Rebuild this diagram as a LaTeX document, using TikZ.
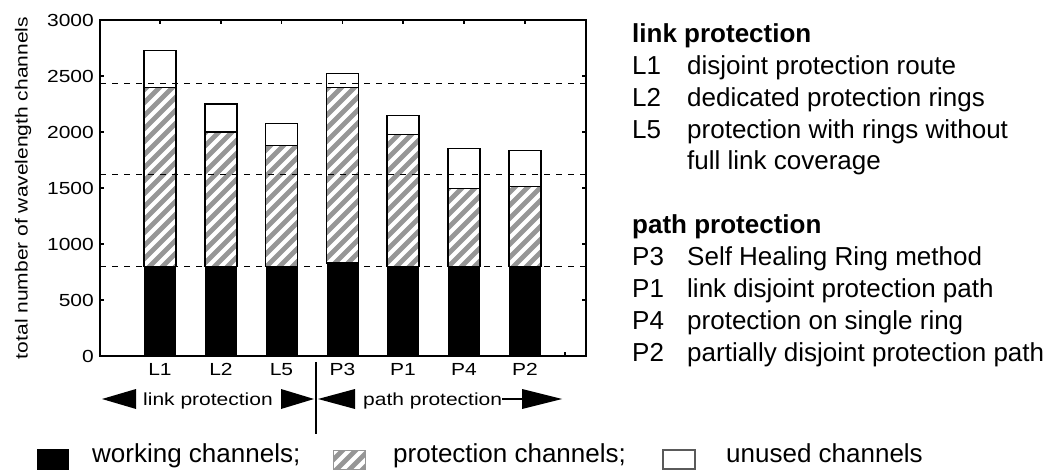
\documentclass[tikz,border=0pt]{standalone}
\usepackage{fontspec}
\setmainfont{Liberation Sans}
\newfontfamily\chartfont{Liberation Sans}[FakeStretch=1.2]
\definecolor{stripegray}{RGB}{150,150,150}
\definecolor{boxgray}{RGB}{90,90,90}
\begin{document}
\begin{tikzpicture}[x=1pt,y=-1pt,
  frame/.style={draw=black, line width=2pt, line join=miter},
  tick/.style={line width=1.5pt},
  guide/.style={line width=1pt, dash pattern=on 6pt off 6pt},
  barline/.style={draw=black, line width=1.3pt},
  stripe/.style={draw=stripegray, line width=4.8pt},
  chart/.style={font=\chartfont\fontsize{17.5}{20}\selectfont, inner sep=0pt},
  ticklabel/.style={chart, anchor=east},
  barlabel/.style={chart, anchor=base},
  note/.style={font=\fontsize{26}{31}\selectfont, inner sep=0pt, anchor=base west},
  head/.style={note, font=\bfseries\fontsize{26}{31}\selectfont},
  divider/.style={line width=2pt},
]
\useasboundingbox (0,0) rectangle (1058,470);

% stacked bars: label / centre x / working / working+protection / total
\foreach \lab/\cx/\w/\p/\t in {L1/160/800/2400/2730, L2/221/800/2000/2250,
    L5/281.5/800/1880/2075, P3/342.5/830/2400/2525, P1/403/800/1980/2150,
    P4/464/800/1495/1850, P2/525/800/1515/1835}{
  \pgfmathsetmacro\yw{356-0.112*\w}
  \pgfmathsetmacro\yp{356-0.112*\p}
  \pgfmathsetmacro\yt{356-0.112*\t}
  \pgfmathtruncatemacro\ka{(\cx-16+\yp)/13}
  \pgfmathtruncatemacro\kb{(\cx+16+\yw)/13+1}
  \fill[black] (\cx-16,356) rectangle (\cx+16,\yw);
  \fill[white] (\cx-16,\yw) rectangle (\cx+16,\yt);
  \begin{scope}
    \clip (\cx-16,\yw) rectangle (\cx+16,\yp);
    \foreach \k in {\ka,...,\kb}
      \draw[stripe] (\k*13-400,400) -- (\k*13,0);
  \end{scope}
  \draw[barline] (\cx-16,\yw) rectangle (\cx+16,\yp);
  \draw[barline] (\cx-16,\yp) rectangle (\cx+16,\yt);
  \node[barlabel] (bar-\lab) at (\cx,375) {\lab};
}

% reference levels
\foreach \v in {800,1620,2430}
  \draw[guide] (100,{356-0.112*\v}) -- (586,{356-0.112*\v});

% plot frame and inner ticks
\draw[frame] (100,20) rectangle (586,356);
\foreach \cx in {160,221,281.5,342.5,403,464,525}
  \draw[tick] (\cx,20) -- (\cx,24);
\foreach \v in {500,1000,...,2500}{
  \draw[tick] (586,{356-0.112*\v}) -- (582,{356-0.112*\v});
  \draw[tick] (100,{356-0.112*\v}) -- (104,{356-0.112*\v});
}
\draw[tick] (565,356) -- (565,352);

% axis numbers and title
\foreach \v in {0,500,...,3000}
  \node[ticklabel] (tick-\v) at (94,{356-0.112*\v}) {\v};
\node[chart, rotate=90] (ytitle) at (23,188) {total number of wavelength channels};

% grouping arrows below the bars
\coordinate (divtop) at (316,362);
\coordinate (divbot) at (316,434);
\draw[divider] (divtop) -- (divbot);
\fill (102,399) -- (136,389) -- (136,409) -- cycle;
\node[chart, anchor=base west] (grp-link) at (143,405) {link protection};
\fill (314,399) -- (281,389) -- (281,409) -- cycle;
\fill (318,399) -- (355,389) -- (355,409) -- cycle;
\node[chart, anchor=base west] (grp-path) at (363,405) {path protection};
\coordinate (tailend) at (522,399);
\draw[divider] (grp-path.east |- tailend) -- (tailend);
\fill (562,399) -- (522,389) -- (522,409) -- cycle;

% legend
\fill[black] (37,449) rectangle (69,470);
\node[note] (leg-work) at (92,462) {working channels;};
\begin{scope}
  \clip (333,450) rectangle (365,469);
  \foreach \k in {60,...,66}
    \draw[stripe] (\k*13-480,480) -- (\k*13-420,420);
\end{scope}
\draw[draw=stripegray, line width=1pt] (333,450) rectangle (365,469);
\node[note] (leg-prot) at (393,462) {protection channels;};
\draw[draw=boxgray, line width=1.2pt] (663,450) rectangle (695,469);
\node[note] (leg-free) at (726,462) {unused channels};

% method key
\node[head] (key-link) at (632,43) {link protection};
\node[note] (key-L1) at (632,75) {L1};
\node[note] (txt-L1) at (687,75) {disjoint protection route};
\node[note] (key-L2) at (632,107) {L2};
\node[note] (txt-L2) at (687,107) {dedicated protection rings};
\node[note] (key-L5) at (632,139) {L5};
\node[note] (txt-L5) at (687,139) {protection with rings without};
\node[note] (txt-L5b) at (687,170) {full link coverage};
\node[head] (key-path) at (632,234) {path protection};
\node[note] (key-P3) at (632,266) {P3};
\node[note] (txt-P3) at (687,266) {Self Healing Ring method};
\node[note] (key-P1) at (632,298) {P1};
\node[note] (txt-P1) at (687,298) {link disjoint protection path};
\node[note] (key-P4) at (632,330) {P4};
\node[note] (txt-P4) at (687,330) {protection on single ring};
\node[note] (key-P2) at (632,362) {P2};
\node[note] (txt-P2) at (687,362) {partially disjoint protection path};
\end{tikzpicture}
\end{document}
